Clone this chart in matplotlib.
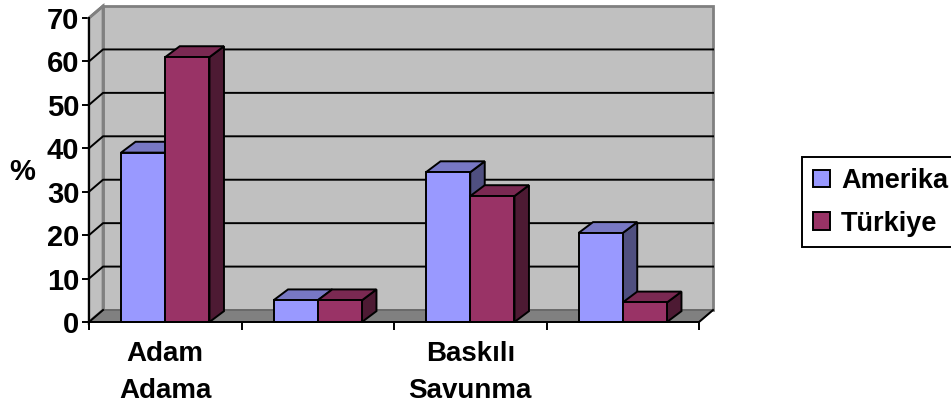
import matplotlib
matplotlib.use('Agg')
from matplotlib import pyplot as plt
from matplotlib.patches import Polygon, Patch

plt.rcParams['font.family'] = ['Liberation Sans', 'DejaVu Sans']
plt.rcParams['font.weight'] = 'bold'
plt.rcParams['axes.labelweight'] = 'bold'

categories = ['Adam\nAdama', '', 'Baskılı\nSavunma', '']
series_names = ['Amerika', 'Türkiye']
amerika = [39, 5, 34.5, 20.5]
turkiye = [61, 5, 29, 4.5]
y_ticks = [0, 10, 20, 30, 40, 50, 60, 70]

# box depth in data units (x is categories, y is percent)
wall_dx = 0.092
wall_dy = 2.76
bar_dx = 0.095
bar_dy = 2.5
bar_w = 0.29
bar_start = 0.21
line_w = 1.4

colors = {
    'Amerika': ('#9999FF', '#7878C4', '#4F4F80'),
    'Türkiye': ('#993366', '#7A2952', '#4D1A33'),
}

W, H = 951, 403
fig = plt.figure(figsize=[W / 100, H / 100], dpi=100)
ax = fig.add_axes([89 / W, 1 - 322 / H, 610 / W, 304 / H])
ax.set_xlim(0, 4)
ax.set_ylim(0, 70)
ax.patch.set_visible(False)


def poly(points, face, edge='black', lw=line_w, z=3):
    ax.add_patch(Polygon(points, closed=True, facecolor=face, edgecolor=edge,
                         linewidth=lw, zorder=z, clip_on=False, joinstyle='miter'))


# walls and floor
poly([(wall_dx, wall_dy), (4 + wall_dx, wall_dy), (4 + wall_dx, 70 + wall_dy), (wall_dx, 70 + wall_dy)],
     '#C0C0C0', '#808080', 2.0, 1)
poly([(0, 0), (wall_dx, wall_dy), (wall_dx, 70 + wall_dy), (0, 70)], '#C0C0C0', '#808080', 2.0, 1)
poly([(0, 0), (4, 0), (4 + wall_dx, wall_dy), (wall_dx, wall_dy)], '#808080', '#666666', 1.2, 1)

for v in y_ticks[1:-1]:
    ax.plot([0, wall_dx, 4 + wall_dx], [v, v + wall_dy, v + wall_dy], color='black', lw=line_w,
            zorder=2, clip_on=False)
ax.plot([0, wall_dx], [0, wall_dy], color='black', lw=line_w, zorder=2, clip_on=False)
ax.plot([4, 4 + wall_dx], [0, wall_dy], color='black', lw=line_w, zorder=2, clip_on=False)
ax.plot([0, wall_dx], [70, 70 + wall_dy], color='#808080', lw=2.0, zorder=2, clip_on=False)


def bar3d(x, value, name):
    front, top, side = colors[name]
    poly([(x + bar_w, 0), (x + bar_w + bar_dx, bar_dy), (x + bar_w + bar_dx, value + bar_dy), (x + bar_w, value)], side)
    poly([(x, value), (x + bar_w, value), (x + bar_w + bar_dx, value + bar_dy), (x + bar_dx, value + bar_dy)], top)
    poly([(x, 0), (x + bar_w, 0), (x + bar_w, value), (x, value)], front)


for i in range(len(categories)):
    bar3d(i + bar_start, amerika[i], 'Amerika')
    bar3d(i + bar_start + bar_w, turkiye[i], 'Türkiye')

# axes: boundary ticks on x, labels sit between them
for s in ['top', 'right']:
    ax.spines[s].set_visible(False)
for s in ['left', 'bottom']:
    ax.spines[s].set_linewidth(line_w)
    ax.spines[s].set_zorder(5)

ax.set_yticks(y_ticks)
ax.tick_params(axis='y', length=5, width=line_w, labelsize=21, pad=2)
ax.set_xticks(range(5))
ax.set_xticklabels([])
ax.tick_params(axis='x', which='major', length=6, width=line_w)
ax.set_xticks([i + 0.5 for i in range(4)], minor=True)
ax.set_xticklabels(categories, minor=True, fontsize=20, linespacing=1.55)
ax.tick_params(axis='x', which='minor', length=0, pad=14)

ax.set_ylabel('%', rotation=0, fontsize=21, va='center', ha='center')
ax.yaxis.set_label_coords(-67 / 610, 150 / 304)

handles = [Patch(facecolor=colors[n][0], edgecolor='black', linewidth=line_w) for n in series_names]
leg = fig.legend(handles, series_names, loc='upper left', bbox_to_anchor=(802 / W, 1 - 157 / H),
                 fontsize=19.5, frameon=True, fancybox=False, edgecolor='black', framealpha=1,
                 handlelength=0.62, handleheight=0.62, handletextpad=0.42, borderpad=0.4,
                 labelspacing=0.62, borderaxespad=0)
leg.get_frame().set_linewidth(line_w)

fig.savefig('out.png', dpi=100)
